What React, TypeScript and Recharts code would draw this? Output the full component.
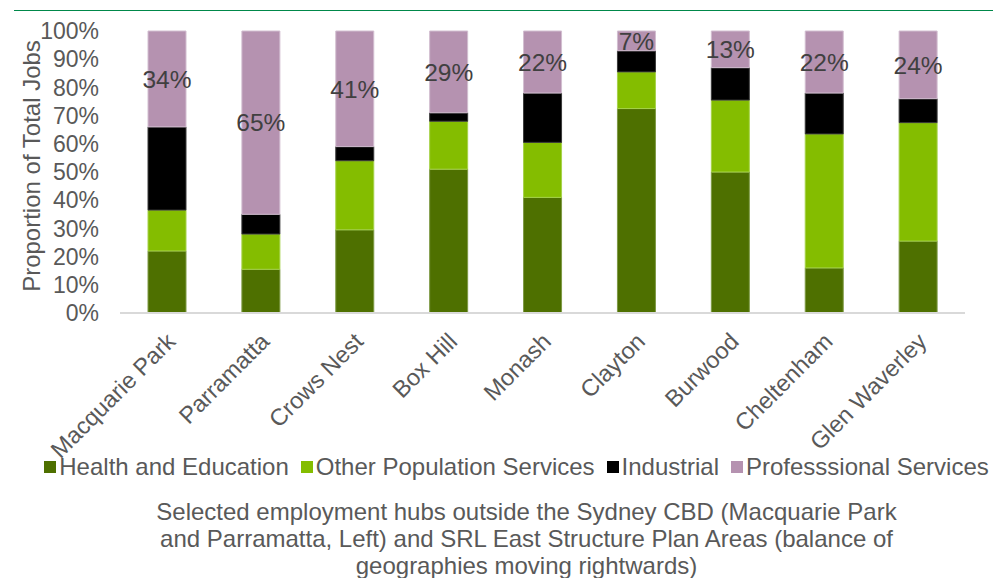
import React from "react";
import {
  BarChart,
  Bar,
  XAxis,
  YAxis,
  Legend,
  LabelList,
} from "recharts";

// Hubs, left to right
const hubs = [
  "Macquarie Park",
  "Parramatta",
  "Crows Nest",
  "Box Hill",
  "Monash",
  "Clayton",
  "Burwood",
  "Cheltenham",
  "Glen Waverley",
];

// Share of total jobs (%) by sector
const healthEducation = [22, 15.5, 29.5, 51, 41, 72.5, 50, 16, 25.5];
const otherPopulation = [14.5, 12.5, 24.5, 17, 19.5, 13, 25.5, 47.5, 42];
const industrial = [29.5, 7, 5, 3, 17.5, 7.5, 11.5, 14.5, 8.5];
const professional = [34, 65, 41, 29, 22, 7, 13, 22, 24];

const yTicks = [0, 10, 20, 30, 40, 50, 60, 70, 80, 90, 100];

const captionLines = [
  "Selected employment hubs outside the Sydney CBD (Macquarie Park",
  "and Parramatta, Left) and SRL East Structure Plan Areas (balance of",
  "geographies moving rightwards)",
];

const series = [
  { key: "health", name: "Health and Education", fill: "#4E7000", stroke: "#7E9A45" },
  { key: "other", name: "Other Population Services", fill: "#84BD00", stroke: "#A6D24A" },
  { key: "industrial", name: "Industrial", fill: "#000000", stroke: "#3a3a3a" },
  { key: "professional", name: "Professsional Services", fill: "#B592B0", stroke: "#D2BED0" },
];

const FONT = '"Liberation Sans", Arial, sans-serif';
const GREY = "#595959";

const data = hubs.map((hub, i) => ({
  hub,
  health: healthEducation[i],
  other: otherPopulation[i],
  industrial: industrial[i],
  professional: professional[i],
}));

const XTick = ({ x, y, payload }: any) => (
  <text
    x={x + 10}
    y={y + 22}
    textAnchor="end"
    fill={GREY}
    fontSize={23.5}
    fontFamily={FONT}
    transform={`rotate(-45, ${x + 10}, ${y + 22})`}
  >
    {payload.value}
  </text>
);

const LegendAndCaption = () => (
  <div style={{ height: 123, fontFamily: FONT, color: GREY }}>
    <div
      style={{
        display: "flex",
        justifyContent: "center",
        alignItems: "center",
        fontSize: 24,
        height: 24,
        paddingLeft: 80,
        whiteSpace: "nowrap",
      }}
    >
      {series.map((s) => (
        <span
          key={s.key}
          style={{ display: "flex", alignItems: "center", marginRight: 12 }}
        >
          <span
            style={{
              width: 12,
              height: 12,
              background: s.fill,
              marginRight: 3,
              display: "inline-block",
            }}
          />
          {s.name}
        </span>
      ))}
    </div>
    <div
      style={{
        textAlign: "center",
        fontSize: 24,
        lineHeight: "27px",
        marginTop: 19,
        paddingLeft: 88,
        whiteSpace: "nowrap",
      }}
    >
      {captionLines.map((l) => (
        <div key={l}>{l}</div>
      ))}
    </div>
  </div>
);

export default function App() {
  return (
    <div
      style={{
        position: "absolute",
        left: 0,
        top: 0,
        width: 993,
        height: 578,
        background: "#fff",
        overflow: "hidden",
      }}
    >
      <div
        style={{
          position: "absolute",
          left: 14,
          right: 0,
          top: 10,
          height: 1,
          background: "#00884A",
        }}
      />
      <BarChart
        width={993}
        height={578}
        data={data}
        margin={{ top: 31, right: 28, left: 0, bottom: 0 }}
        barSize={38}
      >
        <XAxis
          dataKey="hub"
          height={142}
          interval={0}
          tick={<XTick />}
          tickLine={false}
          axisLine={{ stroke: "#D9D9D9", strokeWidth: 2 }}
        />
        <YAxis
          width={120}
          domain={[0, 100]}
          ticks={yTicks}
          interval={0}
          tickFormatter={(v) => `${v}%`}
          tick={{ fill: GREY, fontSize: 23, fontFamily: FONT }}
          tickLine={false}
          axisLine={false}
          tickSize={0}
          tickMargin={21}
          label={({ viewBox }: any) => {
            const cy = viewBox.y + viewBox.height / 2 - 6;
            return (
              <text
                x={40}
                y={cy}
                textAnchor="middle"
                fill={GREY}
                fontSize={24}
                fontFamily={FONT}
                transform={`rotate(-90, 40, ${cy})`}
              >
                Proportion of Total Jobs
              </text>
            );
          }}
        />
        <Legend verticalAlign="bottom" content={<LegendAndCaption />} />
        {series.map((s) => (
          <Bar
            key={s.key}
            dataKey={s.key}
            name={s.name}
            stackId="jobs"
            fill={s.fill}
            stroke={s.stroke}
            strokeWidth={1}
            isAnimationActive={false}
          >
            {s.key === "professional" && (
              <LabelList
                dataKey="professional"
                position="center"
                formatter={(v: any) => `${Math.round(Number(v))}%`}
                fill="#404040"
                fontSize={24.5}
                fontFamily={FONT}
              />
            )}
          </Bar>
        ))}
      </BarChart>
    </div>
  );
}
